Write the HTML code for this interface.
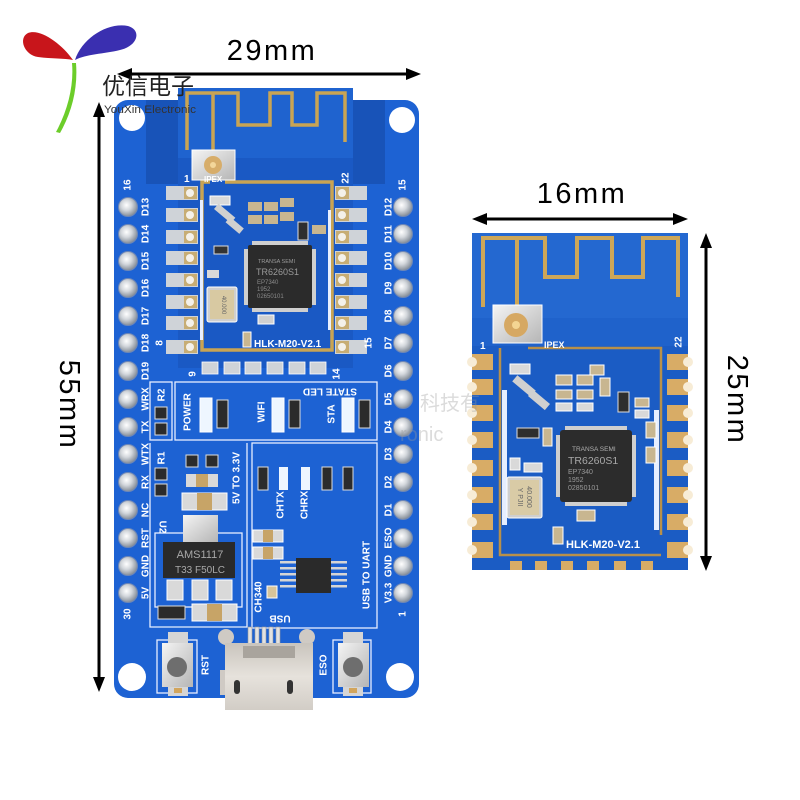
<!DOCTYPE html>
<html><head><meta charset="utf-8">
<style>
html,body{margin:0;padding:0;background:#fff;}
svg{display:block;}
text{font-family:"Liberation Sans","Noto Sans CJK SC",sans-serif;}
</style></head><body>
<svg width="800" height="800" viewBox="0 0 800 800" xmlns="http://www.w3.org/2000/svg">
<defs>
<radialGradient id="pin" cx="42%" cy="40%" r="62%">
<stop offset="0" stop-color="#ffffff"/><stop offset="0.45" stop-color="#d3d7dc"/><stop offset="1" stop-color="#7f8893"/>
</radialGradient>
<linearGradient id="silver" x1="0" y1="0" x2="1" y2="1">
<stop offset="0" stop-color="#f4f4f4"/><stop offset="1" stop-color="#b5b5b5"/>
</linearGradient>
<linearGradient id="usb" x1="0" y1="0" x2="0" y2="1">
<stop offset="0" stop-color="#c9c4bd"/><stop offset="0.5" stop-color="#e6e2dc"/><stop offset="1" stop-color="#d2cdc6"/>
</linearGradient>
</defs>

<!-- ===== Logo ===== -->
<path d="M73,60 C62,44 40,28 28,33 C18,38 24,55 38,57 C52,59 64,58 73,60 Z" fill="#c8151b"/>
<path d="M75,60 C82,38 108,22 128,26 C142,30 138,46 120,50 C104,54 86,54 75,60 Z" fill="#3a2fb0"/>
<path d="M72,63 C74,85 68,110 56,132 L60,133 C72,112 78,88 76,63 Z" fill="#6ccd2a"/>

<!-- ===== Dimension arrows ===== -->
<g fill="#000" stroke="#000">
<line x1="128" y1="74" x2="410" y2="74" stroke-width="3"/>
<polygon points="117,74 132,68 132,80" stroke="none"/>
<polygon points="421,74 406,68 406,80" stroke="none"/>
<line x1="99" y1="112" x2="99" y2="682" stroke-width="3"/>
<polygon points="99,102 93,117 105,117" stroke="none"/>
<polygon points="99,692 93,677 105,677" stroke="none"/>
<line x1="482" y1="219" x2="678" y2="219" stroke-width="3"/>
<polygon points="472,219 487,213 487,225" stroke="none"/>
<polygon points="688,219 673,213 673,225" stroke="none"/>
<line x1="706" y1="243" x2="706" y2="560" stroke-width="3"/>
<polygon points="706,233 700,248 712,248" stroke="none"/>
<polygon points="706,571 700,556 712,556" stroke="none"/>
</g>
<text x="272" y="60" font-size="29" letter-spacing="2.5" text-anchor="middle" fill="#000">29mm</text>
<text x="582" y="203" font-size="29" letter-spacing="2.5" text-anchor="middle" fill="#000">16mm</text>
<text transform="translate(69,405) rotate(90)" font-size="29" letter-spacing="2.5" text-anchor="middle" dominant-baseline="central" fill="#000">55mm</text>
<text transform="translate(737,400) rotate(90)" font-size="29" letter-spacing="2.5" text-anchor="middle" dominant-baseline="central" fill="#000">25mm</text>

<!-- ===== Left board ===== -->
<rect x="114" y="100" width="305" height="598" rx="14" fill="#1d62d3"/>
<rect x="146" y="100" width="34" height="84" fill="#1853b8"/>
<rect x="351" y="100" width="34" height="84" fill="#1853b8"/>
<!-- holes -->
<circle cx="132" cy="118" r="13" fill="#fff"/>
<circle cx="402" cy="120" r="13" fill="#fff"/>
<circle cx="132" cy="677" r="14" fill="#fff"/>
<circle cx="400" cy="677" r="14" fill="#fff"/>

<!-- module on left board -->
<rect x="178" y="88" width="175" height="280" fill="#1a59c4"/>
<rect x="178" y="88" width="175" height="70" fill="#1f63cf"/>
<g fill="none" stroke="#c9a453" stroke-width="3.5">
<path d="M187,150 V93 H238 V125 H270 V93 H292 V125 H317 V93 H345 V142"/>
<path d="M213,93 V150"/>
<path d="M225,182 H332 V350 H202 V182 H210"/>
</g>
<rect x="200" y="200" width="3" height="140" fill="#e8f0ff"/>
<rect x="328" y="210" width="3" height="120" fill="#e8f0ff"/>
<!-- IPEX -->
<rect x="192" y="150" width="43" height="30" fill="url(#silver)" stroke="#fff" stroke-width="1"/>
<circle cx="213" cy="165" r="9" fill="#d7ad6a"/>
<circle cx="213" cy="165" r="3" fill="#f3d69a"/>
<!-- module pads left/right -->
<g>
<g fill="#cfd3d8">
<rect x="166" y="186" width="32" height="14"/><rect x="166" y="208" width="32" height="14"/>
<rect x="166" y="230" width="32" height="14"/><rect x="166" y="251" width="32" height="14"/>
<rect x="166" y="273" width="32" height="14"/><rect x="166" y="295" width="32" height="14"/>
<rect x="166" y="316" width="32" height="14"/><rect x="166" y="340" width="32" height="14"/>
<rect x="335" y="186" width="32" height="14"/><rect x="335" y="208" width="32" height="14"/>
<rect x="335" y="230" width="32" height="14"/><rect x="335" y="251" width="32" height="14"/>
<rect x="335" y="273" width="32" height="14"/><rect x="335" y="295" width="32" height="14"/>
<rect x="335" y="316" width="32" height="14"/><rect x="335" y="340" width="32" height="14"/>
</g>
<g fill="#c7ad74">
<rect x="184" y="187" width="13" height="12"/><rect x="184" y="209" width="13" height="12"/>
<rect x="184" y="231" width="13" height="12"/><rect x="184" y="252" width="13" height="12"/>
<rect x="184" y="274" width="13" height="12"/><rect x="184" y="296" width="13" height="12"/>
<rect x="184" y="317" width="13" height="12"/><rect x="184" y="341" width="13" height="12"/>
<rect x="336" y="187" width="13" height="12"/><rect x="336" y="209" width="13" height="12"/>
<rect x="336" y="231" width="13" height="12"/><rect x="336" y="252" width="13" height="12"/>
<rect x="336" y="274" width="13" height="12"/><rect x="336" y="296" width="13" height="12"/>
<rect x="336" y="317" width="13" height="12"/><rect x="336" y="341" width="13" height="12"/>
</g>
<g fill="#f4f1ea">
<circle cx="190" cy="193" r="4"/><circle cx="190" cy="215" r="4"/><circle cx="190" cy="237" r="4"/><circle cx="190" cy="258" r="4"/>
<circle cx="190" cy="280" r="4"/><circle cx="190" cy="302" r="4"/><circle cx="190" cy="323" r="4"/><circle cx="190" cy="347" r="4"/>
<circle cx="342" cy="193" r="4"/><circle cx="342" cy="215" r="4"/><circle cx="342" cy="237" r="4"/><circle cx="342" cy="258" r="4"/>
<circle cx="342" cy="280" r="4"/><circle cx="342" cy="302" r="4"/><circle cx="342" cy="323" r="4"/><circle cx="342" cy="347" r="4"/>
</g>
<g fill="#cfd3d8" stroke="#fff" stroke-width="0.8">
<rect x="202" y="362" width="16" height="12"/><rect x="224" y="362" width="16" height="12"/>
<rect x="245" y="362" width="16" height="12"/><rect x="267" y="362" width="16" height="12"/>
<rect x="289" y="362" width="16" height="12"/><rect x="310" y="362" width="16" height="12"/>
</g>
</g>
<!-- SMDs in module -->
<g>
<rect x="210" y="196" width="20" height="9" fill="#d9d9d9" stroke="#fff"/>
<rect x="214" y="210" width="22" height="7" fill="#d0d0d0" transform="rotate(40 225 213)"/>
<rect x="226" y="222" width="18" height="7" fill="#d0d0d0" transform="rotate(40 235 225)"/>
<rect x="248" y="202" width="14" height="9" fill="#c8b690"/><rect x="264" y="202" width="14" height="9" fill="#c8b690"/>
<rect x="280" y="198" width="14" height="9" fill="#c8b690"/><rect x="248" y="215" width="14" height="9" fill="#c8b690"/>
<rect x="264" y="215" width="14" height="9" fill="#c8b690"/><rect x="280" y="212" width="14" height="9" fill="#c8b690"/>
<rect x="298" y="222" width="10" height="18" fill="#2e2e2e" stroke="#ddd"/>
<rect x="312" y="225" width="14" height="9" fill="#c8b690"/>
<rect x="214" y="246" width="14" height="8" fill="#333" stroke="#ddd"/>
<rect x="207" y="270" width="12" height="8" fill="#d9d9d9"/>
</g>
<!-- chip -->
<g fill="#cfcfcf">
<rect x="252" y="241" width="56" height="4"/><rect x="252" y="308" width="56" height="4"/>
<rect x="244" y="249" width="4" height="56"/><rect x="312" y="249" width="4" height="56"/>
</g>
<rect x="248" y="245" width="64" height="63" rx="2" fill="#2b2b2b"/>
<text x="258" y="263" font-size="5.5" fill="#9a9a9a">TRANSA SEMI</text>
<text x="256" y="275" font-size="9" fill="#9a9a9a">TR6260S1</text>
<text x="257" y="284" font-size="6" fill="#8a8a8a">EP7340</text>
<text x="257" y="291" font-size="6" fill="#8a8a8a">1952</text>
<text x="257" y="298" font-size="6" fill="#8a8a8a">02650101</text>
<!-- crystal -->
<rect x="207" y="287" width="30" height="35" rx="2" fill="#cfcfcf" stroke="#fff"/>
<rect x="210" y="290" width="24" height="29" fill="#d8c9a2"/>
<text transform="translate(222,305) rotate(90)" font-size="6" fill="#666" text-anchor="middle">40.000</text>
<rect x="258" y="315" width="16" height="9" fill="#d0d0d0" stroke="#fff"/>
<rect x="243" y="332" width="8" height="15" fill="#c8b690" stroke="#fff"/>
<text x="254" y="347" font-size="10" font-weight="bold" fill="#fff">HLK-M20-V2.1</text>
<text x="184" y="182" font-size="10" font-weight="bold" fill="#fff">1</text>
<text x="204" y="182" font-size="8" font-weight="bold" fill="#fff">IPEX</text>
<text transform="translate(346,178) rotate(-90)" font-size="10" font-weight="bold" fill="#fff" text-anchor="middle" dominant-baseline="central">22</text>
<text transform="translate(160,343) rotate(-90)" font-size="10" font-weight="bold" fill="#fff" text-anchor="middle" dominant-baseline="central">8</text>
<text transform="translate(193,374) rotate(-90)" font-size="10" font-weight="bold" fill="#fff" text-anchor="middle" dominant-baseline="central">9</text>
<text transform="translate(337,374) rotate(-90)" font-size="10" font-weight="bold" fill="#fff" text-anchor="middle" dominant-baseline="central">14</text>
<text transform="translate(369,343) rotate(-90)" font-size="10" font-weight="bold" fill="#fff" text-anchor="middle" dominant-baseline="central">15</text>

<!-- header pins -->
<g fill="url(#pin)" stroke="#6d87b8" stroke-width="1">
<circle cx="128" cy="207" r="9.5"/><circle cx="128" cy="234" r="9.5"/><circle cx="128" cy="261" r="9.5"/>
<circle cx="128" cy="288" r="9.5"/><circle cx="128" cy="316" r="9.5"/><circle cx="128" cy="343" r="9.5"/>
<circle cx="128" cy="371" r="9.5"/><circle cx="128" cy="399" r="9.5"/><circle cx="128" cy="427" r="9.5"/>
<circle cx="128" cy="454" r="9.5"/><circle cx="128" cy="482" r="9.5"/><circle cx="128" cy="510" r="9.5"/>
<circle cx="128" cy="538" r="9.5"/><circle cx="128" cy="566" r="9.5"/><circle cx="128" cy="593" r="9.5"/>
<circle cx="403" cy="207" r="9.5"/><circle cx="403" cy="234" r="9.5"/><circle cx="403" cy="261" r="9.5"/>
<circle cx="403" cy="288" r="9.5"/><circle cx="403" cy="316" r="9.5"/><circle cx="403" cy="343" r="9.5"/>
<circle cx="403" cy="371" r="9.5"/><circle cx="403" cy="399" r="9.5"/><circle cx="403" cy="427" r="9.5"/>
<circle cx="403" cy="454" r="9.5"/><circle cx="403" cy="482" r="9.5"/><circle cx="403" cy="510" r="9.5"/>
<circle cx="403" cy="538" r="9.5"/><circle cx="403" cy="566" r="9.5"/><circle cx="403" cy="593" r="9.5"/>
</g>
<g font-size="10" font-weight="bold" fill="#fff" text-anchor="middle" dominant-baseline="central">
<text transform="translate(146,207) rotate(-90)">D13</text>
<text transform="translate(146,234) rotate(-90)">D14</text>
<text transform="translate(146,261) rotate(-90)">D15</text>
<text transform="translate(146,288) rotate(-90)">D16</text>
<text transform="translate(146,316) rotate(-90)">D17</text>
<text transform="translate(146,343) rotate(-90)">D18</text>
<text transform="translate(146,371) rotate(-90)">D19</text>
<text transform="translate(146,399) rotate(-90)">WRX</text>
<text transform="translate(146,427) rotate(-90)">TX</text>
<text transform="translate(146,454) rotate(-90)">WTX</text>
<text transform="translate(146,482) rotate(-90)">RX</text>
<text transform="translate(146,510) rotate(-90)">NC</text>
<text transform="translate(146,538) rotate(-90)">RST</text>
<text transform="translate(146,566) rotate(-90)">GND</text>
<text transform="translate(146,593) rotate(-90)">5V</text>
<text transform="translate(389,207) rotate(-90)">D12</text>
<text transform="translate(389,234) rotate(-90)">D11</text>
<text transform="translate(389,261) rotate(-90)">D10</text>
<text transform="translate(389,288) rotate(-90)">D9</text>
<text transform="translate(389,316) rotate(-90)">D8</text>
<text transform="translate(389,343) rotate(-90)">D7</text>
<text transform="translate(389,371) rotate(-90)">D6</text>
<text transform="translate(389,399) rotate(-90)">D5</text>
<text transform="translate(389,427) rotate(-90)">D4</text>
<text transform="translate(389,454) rotate(-90)">D3</text>
<text transform="translate(389,482) rotate(-90)">D2</text>
<text transform="translate(389,510) rotate(-90)">D1</text>
<text transform="translate(389,538) rotate(-90)">ESO</text>
<text transform="translate(389,566) rotate(-90)">GND</text>
<text transform="translate(389,593) rotate(-90)">V3.3</text>
<text transform="translate(128,185) rotate(-90)">16</text>
<text transform="translate(128,614) rotate(-90)">30</text>
<text transform="translate(403,185) rotate(-90)">15</text>
<text transform="translate(403,614) rotate(-90)">1</text>
</g>

<!-- silkscreen boxes -->
<g fill="none" stroke="#e6eeff" stroke-width="1.3">
<rect x="150" y="382" width="22" height="58"/>
<rect x="175" y="382" width="202" height="58"/>
<path d="M150,443 V627 H247 V443"/>
<rect x="252" y="443" width="125" height="185"/>
<rect x="155" y="533" width="87" height="74"/>
<rect x="157" y="640" width="40" height="53"/>
<rect x="333" y="640" width="38" height="53"/>
</g>
<!-- STATE LED area -->
<g font-size="10" font-weight="bold" fill="#fff" text-anchor="middle" dominant-baseline="central">
<text transform="translate(330,391) rotate(180)">STATE LED</text>
<text transform="translate(188,412) rotate(-90)">POWER</text>
<text transform="translate(262,412) rotate(-90)">WIFI</text>
<text transform="translate(332,414) rotate(-90)">STA</text>
<text transform="translate(162,395) rotate(-90)">R2</text>
<text transform="translate(162,458) rotate(-90)">R1</text>
<text transform="translate(237,478) rotate(-90)">5V TO 3.3V</text>
<text transform="translate(281,505) rotate(-90)">CHTX</text>
<text transform="translate(305,505) rotate(-90)">CHRX</text>
<text transform="translate(162,527) rotate(90)">U2</text>
<text transform="translate(259,597) rotate(-90)">CH340</text>
<text transform="translate(367,575) rotate(-90)">USB TO UART</text>
<text transform="translate(280,618) rotate(180)">USB</text>
<text transform="translate(206,665) rotate(-90)">RST</text>
<text transform="translate(324,665) rotate(-90)">ESO</text>
</g>
<g>
<rect x="200" y="398" width="12" height="34" fill="#eef6ff" stroke="#fff"/>
<rect x="217" y="400" width="11" height="28" fill="#2b2b2b" stroke="#ddd"/>
<rect x="272" y="398" width="12" height="34" fill="#eef6ff" stroke="#fff"/>
<rect x="289" y="400" width="11" height="28" fill="#2b2b2b" stroke="#ddd"/>
<rect x="342" y="398" width="12" height="34" fill="#eef6ff" stroke="#fff"/>
<rect x="359" y="400" width="11" height="28" fill="#2b2b2b" stroke="#ddd"/>
<rect x="155" y="407" width="12" height="12" fill="#2b2b2b" stroke="#ddd"/>
<rect x="155" y="423" width="12" height="12" fill="#2b2b2b" stroke="#ddd"/>
<rect x="155" y="468" width="12" height="12" fill="#2b2b2b" stroke="#ddd"/>
<rect x="155" y="484" width="12" height="12" fill="#2b2b2b" stroke="#ddd"/>
<rect x="186" y="455" width="12" height="12" fill="#2b2b2b" stroke="#ddd"/>
<rect x="206" y="455" width="12" height="12" fill="#2b2b2b" stroke="#ddd"/>
<rect x="186" y="474" width="32" height="13" fill="#d9d9d9"/><rect x="196" y="474" width="12" height="13" fill="#c7a467"/>
<rect x="182" y="493" width="45" height="17" fill="#d9d9d9" stroke="#fff"/><rect x="197" y="493" width="15" height="17" fill="#c7a467"/>
<rect x="258" y="467" width="10" height="23" fill="#2b2b2b" stroke="#ddd"/>
<rect x="279" y="467" width="9" height="23" fill="#eef6ff"/>
<rect x="301" y="467" width="9" height="23" fill="#eef6ff"/>
<rect x="322" y="467" width="10" height="23" fill="#2b2b2b" stroke="#ddd"/>
<rect x="343" y="467" width="10" height="23" fill="#2b2b2b" stroke="#ddd"/>
<rect x="253" y="530" width="30" height="12" fill="#d9d9d9" stroke="#fff"/><rect x="263" y="530" width="10" height="12" fill="#c7a467"/>
<rect x="253" y="547" width="30" height="12" fill="#d9d9d9" stroke="#fff"/><rect x="263" y="547" width="10" height="12" fill="#c7a467"/>
<rect x="267" y="586" width="10" height="12" fill="#d7c49a" stroke="#fff"/>
</g>
<!-- AMS1117 -->
<rect x="183" y="515" width="35" height="27" fill="url(#silver)"/>
<rect x="163" y="542" width="72" height="36" fill="#2a2a2a"/>
<text x="200" y="558" font-size="11" fill="#a8a8a8" text-anchor="middle">AMS1117</text>
<text x="200" y="573" font-size="10" fill="#a8a8a8" text-anchor="middle">T33 F50LC</text>
<g fill="#d9d9d9" stroke="#fff">
<rect x="167" y="580" width="16" height="20"/><rect x="192" y="580" width="16" height="20"/><rect x="216" y="580" width="16" height="20"/>
</g>
<rect x="158" y="606" width="27" height="13" fill="#2b2b2b" stroke="#ddd"/>
<rect x="192" y="604" width="45" height="17" fill="#d9d9d9" stroke="#fff"/><rect x="207" y="604" width="15" height="17" fill="#c7a467"/>
<!-- CH340 -->
<g fill="#d5d5d5">
<rect x="280" y="561" width="17" height="2.5"/><rect x="280" y="567" width="17" height="2.5"/><rect x="280" y="573" width="17" height="2.5"/><rect x="280" y="579" width="17" height="2.5"/><rect x="280" y="585" width="17" height="2.5"/>
<rect x="330" y="561" width="17" height="2.5"/><rect x="330" y="567" width="17" height="2.5"/><rect x="330" y="573" width="17" height="2.5"/><rect x="330" y="579" width="17" height="2.5"/><rect x="330" y="585" width="17" height="2.5"/>
</g>
<rect x="296" y="558" width="35" height="35" fill="#2a2a2a"/>
<!-- USB -->
<g fill="#cfcac4">
<circle cx="226" cy="637" r="8"/><circle cx="307" cy="637" r="8"/>
<rect x="220" y="670" width="10" height="25"/><rect x="303" y="670" width="10" height="25"/>
</g>
<g fill="#e2e2e2" stroke="#9a9a9a" stroke-width="0.6">
<rect x="248" y="627" width="4" height="20"/><rect x="255" y="627" width="4" height="20"/><rect x="262" y="627" width="4" height="20"/><rect x="269" y="627" width="4" height="20"/><rect x="276" y="627" width="4" height="20"/>
</g>
<rect x="225" y="643" width="88" height="67" fill="url(#usb)"/>
<rect x="243" y="646" width="52" height="12" fill="#a9a49d"/>
<rect x="234" y="680" width="6" height="14" rx="3" fill="#333"/>
<rect x="287" y="680" width="6" height="14" rx="3" fill="#333"/>
<!-- buttons -->
<rect x="168" y="632" width="20" height="11" fill="#d5d5d5"/>
<rect x="162" y="643" width="31" height="44" fill="url(#silver)"/>
<circle cx="177" cy="667" r="10" fill="#6e6e6e"/>
<rect x="168" y="687" width="20" height="9" fill="#d5d5d5"/><rect x="174" y="688" width="8" height="5" fill="#d2a55c"/>
<rect x="343" y="632" width="20" height="11" fill="#d5d5d5"/>
<rect x="338" y="643" width="31" height="44" fill="url(#silver)"/>
<circle cx="353" cy="667" r="10" fill="#6e6e6e"/>
<rect x="343" y="687" width="20" height="9" fill="#d5d5d5"/><rect x="349" y="688" width="8" height="5" fill="#d2a55c"/>

<!-- ===== Right module ===== -->
<rect x="472" y="233" width="216" height="337" fill="#1b5cc4"/>
<rect x="472" y="233" width="216" height="87" fill="#2468d0"/>
<rect x="472" y="318" width="216" height="28" fill="#1f62cb"/>
<g fill="none" stroke="#cda657" stroke-width="4">
<path d="M483,307 V238 H545 V277 H577 V238 H612 V277 H643 V238 H678 V297"/>
<path d="M517,238 V305"/>
</g>
<g fill="none" stroke="#b8904a" stroke-width="2.5">
<path d="M528,348 H661 V535"/>
<path d="M500,348 V555 H661"/>
</g>
<rect x="502" y="390" width="5" height="135" fill="#e6eeff"/>
<rect x="654" y="410" width="5" height="120" fill="#e6eeff"/>
<!-- IPEX -->
<rect x="493" y="305" width="49" height="38" fill="url(#silver)" stroke="#fff"/>
<circle cx="516" cy="325" r="12" fill="#d6a862"/>
<circle cx="516" cy="325" r="4" fill="#f4d592"/>
<text x="480" y="349" font-size="10" font-weight="bold" fill="#fff">1</text>
<text x="544" y="348" font-size="9" font-weight="bold" fill="#fff">IPEX</text>
<text transform="translate(679,342) rotate(-90)" font-size="10" font-weight="bold" fill="#fff" text-anchor="middle" dominant-baseline="central">22</text>
<!-- pads -->
<g fill="#d8ac66">
<rect x="472" y="354" width="21" height="16"/><rect x="472" y="379" width="21" height="16"/>
<rect x="472" y="405" width="21" height="16"/><rect x="472" y="432" width="21" height="16"/>
<rect x="472" y="460" width="21" height="16"/><rect x="472" y="487" width="21" height="16"/>
<rect x="472" y="514" width="21" height="16"/><rect x="472" y="542" width="21" height="16"/>
<rect x="667" y="354" width="21" height="16"/><rect x="667" y="379" width="21" height="16"/>
<rect x="667" y="405" width="21" height="16"/><rect x="667" y="432" width="21" height="16"/>
<rect x="667" y="460" width="21" height="16"/><rect x="667" y="487" width="21" height="16"/>
<rect x="667" y="514" width="21" height="16"/><rect x="667" y="542" width="21" height="16"/>
<rect x="510" y="561" width="12" height="9"/><rect x="535" y="561" width="12" height="9"/>
<rect x="561" y="561" width="12" height="9"/><rect x="587" y="561" width="12" height="9"/>
<rect x="614" y="561" width="12" height="9"/><rect x="641" y="561" width="12" height="9"/>
</g>
<g fill="#f7ecd6">
<circle cx="472" cy="362" r="5"/><circle cx="472" cy="387" r="5"/><circle cx="472" cy="413" r="5"/><circle cx="472" cy="440" r="5"/>
<circle cx="472" cy="468" r="5"/><circle cx="472" cy="495" r="5"/><circle cx="472" cy="522" r="5"/><circle cx="472" cy="550" r="5"/>
<circle cx="688" cy="362" r="5"/><circle cx="688" cy="387" r="5"/><circle cx="688" cy="413" r="5"/><circle cx="688" cy="440" r="5"/>
<circle cx="688" cy="468" r="5"/><circle cx="688" cy="495" r="5"/><circle cx="688" cy="522" r="5"/><circle cx="688" cy="550" r="5"/>
</g>
<!-- SMDs right -->
<g>
<rect x="510" y="364" width="20" height="10" fill="#d9d9d9" stroke="#fff"/>
<rect x="512" y="382" width="24" height="8" fill="#d0d0d0" transform="rotate(40 524 386)"/>
<rect x="528" y="396" width="22" height="8" fill="#d0d0d0" transform="rotate(40 539 400)"/>
<rect x="556" y="375" width="16" height="10" fill="#c8b690" stroke="#fff"/><rect x="577" y="375" width="16" height="10" fill="#c8b690" stroke="#fff"/>
<rect x="556" y="390" width="16" height="9" fill="#c8b690" stroke="#fff"/><rect x="577" y="390" width="16" height="9" fill="#c8b690" stroke="#fff"/>
<rect x="556" y="403" width="16" height="8" fill="#d9d9d9" stroke="#fff"/><rect x="577" y="403" width="16" height="8" fill="#d9d9d9" stroke="#fff"/>
<rect x="590" y="365" width="14" height="10" fill="#c8b690" stroke="#fff"/>
<rect x="600" y="378" width="10" height="18" fill="#c8b690" stroke="#fff"/>
<rect x="618" y="392" width="11" height="20" fill="#2e2e2e" stroke="#ddd"/>
<rect x="635" y="398" width="14" height="9" fill="#c8b690" stroke="#fff"/>
<rect x="635" y="410" width="14" height="8" fill="#d9d9d9" stroke="#fff"/>
<rect x="646" y="422" width="10" height="16" fill="#c8b690" stroke="#fff"/>
<rect x="646" y="447" width="10" height="16" fill="#c8b690" stroke="#fff"/>
<rect x="517" y="428" width="22" height="10" fill="#2e2e2e" stroke="#ddd"/>
<rect x="543" y="428" width="9" height="18" fill="#c8b690" stroke="#fff"/>
<rect x="510" y="458" width="10" height="12" fill="#d9d9d9" stroke="#fff"/>
<rect x="524" y="463" width="18" height="9" fill="#d9d9d9" stroke="#fff"/>
<rect x="577" y="510" width="18" height="11" fill="#c8b690" stroke="#fff"/>
<rect x="553" y="527" width="10" height="17" fill="#c8b690" stroke="#fff"/>
</g>
<!-- chip right -->
<g fill="#cfcfcf">
<rect x="565" y="426" width="62" height="4"/><rect x="565" y="502" width="62" height="4"/>
<rect x="556" y="435" width="4" height="62"/><rect x="632" y="435" width="4" height="62"/>
</g>
<rect x="560" y="430" width="72" height="72" rx="3" fill="#2c2c2c"/>
<text x="572" y="451" font-size="6.5" fill="#b0b0b0">TRANSA SEMI</text>
<text x="568" y="464" font-size="10.5" fill="#a8a8a8">TR6260S1</text>
<text x="568" y="474" font-size="7" fill="#999">EP7340</text>
<text x="568" y="482" font-size="7" fill="#999">1952</text>
<text x="568" y="490" font-size="7" fill="#999">02850101</text>
<!-- crystal right -->
<rect x="507" y="477" width="35" height="41" rx="2" fill="#cfcfcf" stroke="#fff"/>
<rect x="510" y="480" width="29" height="35" fill="#d9cba6"/>
<text transform="translate(527,497) rotate(90)" font-size="7" fill="#666" text-anchor="middle">40.000</text>
<text transform="translate(518,497) rotate(90)" font-size="7" fill="#666" text-anchor="middle">Y PJII</text>
<text x="566" y="548" font-size="11" font-weight="bold" fill="#fff">HLK-M20-V2.1</text>

<!-- watermark -->
<text x="420" y="410" font-size="20" fill="#999" opacity="0.35" font-family="'Noto Sans CJK SC',sans-serif">科技有</text>
<text x="400" y="441" font-size="20" fill="#999" opacity="0.35">ronic</text>

<!-- logo text on top -->
<text x="102" y="94" font-size="23" fill="#222" font-family="'Noto Sans CJK SC',sans-serif">优信电子</text>
<text x="104" y="113" font-size="11" fill="#333" textLength="92" lengthAdjust="spacingAndGlyphs">YouXin Electronic</text>
</svg>
</body></html>
